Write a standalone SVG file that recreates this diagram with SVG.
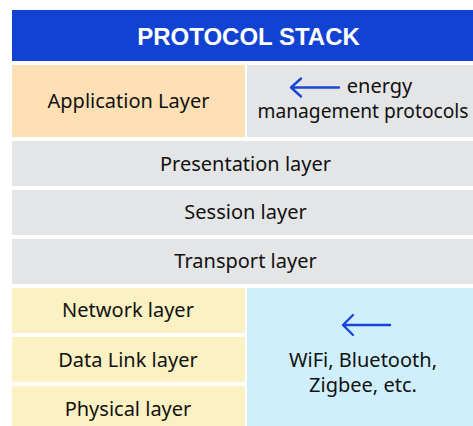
<svg xmlns="http://www.w3.org/2000/svg" width="473" height="426" viewBox="0 0 473 426">
<defs>
<style>
.t{font-family:"Noto Sans","Liberation Sans",Arial,sans-serif;font-size:20px;fill:#111111;text-anchor:middle;font-weight:400}
.h{font-family:"Liberation Sans",Arial,sans-serif;font-size:24px;fill:#ffffff;text-anchor:middle;font-weight:700}
.arr{fill:none;stroke:#1a46d8;stroke-width:2.4;stroke-linecap:round;stroke-linejoin:round}
.peach{fill:#ffe0b5}
.grey{fill:#e4e5e7}
.yel{fill:#fbf1c2}
.lb{fill:#cfeffc}
</style>
</defs>
<rect width="473" height="426" fill="#ffffff"/>
<g id="header"><rect x="12" y="10" width="461" height="51" fill="#1242d2"/><text class="h" x="248.5" y="45">PROTOCOL STACK</text></g>
<g id="application"><rect class="peach" x="12" y="65" width="233" height="72"/><text class="t" x="128.5" y="108">Application Layer</text></g>
<g id="energy"><rect class="grey" x="247" y="65" width="226" height="72"/><text class="t" x="379.5" y="93">energy</text><text class="t" x="363" y="118" style="font-size:19.2px">management protocols</text></g>
<g id="presentation"><rect class="grey" x="12" y="141" width="461" height="45"/><text class="t" x="245.5" y="170.5">Presentation layer</text></g>
<g id="session"><rect class="grey" x="12" y="190" width="461" height="45"/><text class="t" x="245.5" y="218.5">Session layer</text></g>
<g id="transport"><rect class="grey" x="12" y="239" width="461" height="45"/><text class="t" x="245.5" y="267.5">Transport layer</text></g>
<g id="network"><rect class="yel" x="12" y="288" width="233" height="45"/><text class="t" x="128" y="316.5">Network layer</text></g>
<g id="datalink"><rect class="yel" x="12" y="337" width="233" height="45"/><text class="t" x="128" y="367">Data Link layer</text></g>
<g id="physical"><rect class="yel" x="12" y="386" width="233" height="45"/><text class="t" x="128" y="416">Physical layer</text></g>
<g id="wireless"><rect class="lb" x="247" y="288" width="226" height="143"/><text class="t" x="363" y="367">WiFi, Bluetooth,</text><text class="t" x="363" y="391.5">Zigbee, etc.</text></g>
<g id="connectors">
<path class="arr" d="M339 87.5H291M301 78.5L291 87.5L301 96.5"/>
<path class="arr" d="M390 325H343M353 315L343 325L353 335"/>
</g>
</svg>
